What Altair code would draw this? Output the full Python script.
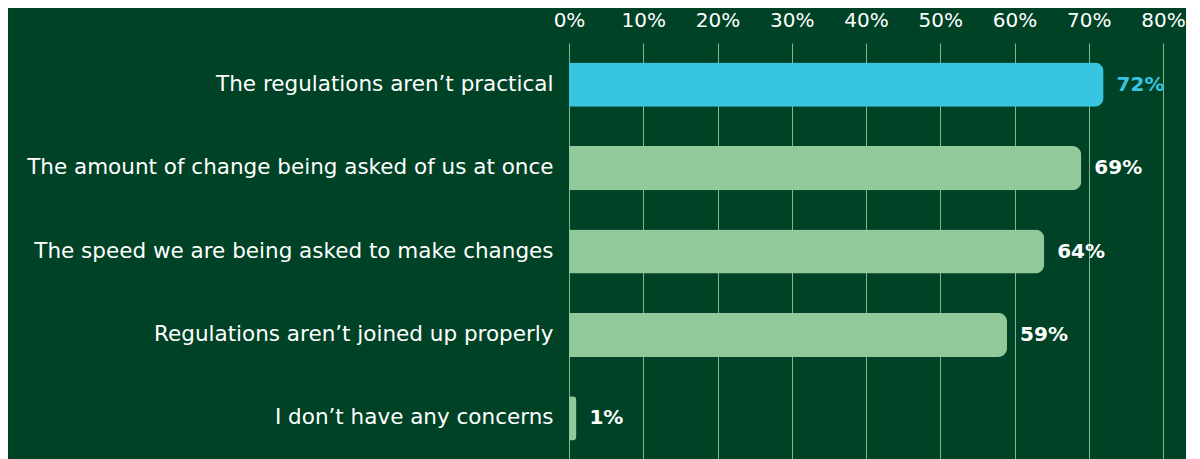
import altair as alt
import pandas as pd

categories = [
    "The regulations aren’t practical",
    "The amount of change being asked of us at once",
    "The speed we are being asked to make changes",
    "Regulations aren’t joined up properly",
    "I don’t have any concerns",
]
values = [72, 69, 64, 59, 1]
bar_colors = ["#37c5e2", "#92c99a", "#92c99a", "#92c99a", "#92c99a"]
label_colors = ["#37c5e2", "#ffffff", "#ffffff", "#ffffff", "#ffffff"]
tick_values = [0, 10, 20, 30, 40, 50, 60, 70, 80]

BG = "#004226"
FONT = "DejaVu Sans"

df = pd.DataFrame({
    "category": categories,
    "value": values,
    "bar_color": bar_colors,
    "label_color": label_colors,
    "label": [f"{v}%" for v in values],
})

y_enc = alt.Y(
    "category:N",
    sort=categories,
    scale=alt.Scale(range=[0, 417], paddingInner=0.47, paddingOuter=0.235),
    axis=alt.Axis(
        title=None,
        ticks=False,
        domain=False,
        labelPadding=16,
        labelFontSize=21.5,
        labelFont=FONT,
        labelColor="#ffffff",
        labelLimit=600,
        minExtent=561,
        maxExtent=561,
    ),
)

x_enc = alt.X(
    "value:Q",
    scale=alt.Scale(domain=[0, 80], nice=False),
    axis=alt.Axis(
        orient="top",
        title=None,
        values=tick_values,
        labelExpr="datum.value + '%'",
        labelFlush=False,
        labelOverlap=False,
        ticks=False,
        domain=False,
        grid=True,
        gridColor="#8cc496",
        gridOpacity=0.9,
        gridWidth=1,
        labelPadding=13,
        labelFontSize=20,
        labelFont=FONT,
        labelColor="#ffffff",
        minExtent=35,
        maxExtent=35,
    ),
)

bars = alt.Chart(df).mark_bar(cornerRadiusEnd=9).encode(
    x=x_enc,
    y=y_enc,
    color=alt.Color("bar_color:N", scale=None),
)

labels = alt.Chart(df).mark_text(
    align="left", baseline="middle", dx=13, fontSize=20, fontWeight="bold", font=FONT
).encode(
    x="value:Q",
    y=alt.Y("category:N", sort=categories),
    text="label:N",
    color=alt.Color("label_color:N", scale=None),
)

chart = (
    alt.layer(bars, labels)
    .properties(
        width=594,
        height=408,
        background=BG,
        padding={"left": 0, "top": 0, "right": 0, "bottom": 0},
    )
    .configure_view(stroke=None)
)

chart.save("out.html", embed_options={"renderer": "svg", "actions": False})
